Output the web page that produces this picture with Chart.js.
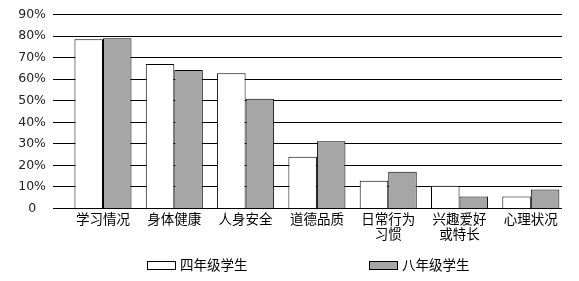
<!DOCTYPE html>
<html>
<head>
<meta charset="utf-8">
<script src="https://cdn.jsdelivr.net/npm/chart.js@4.4.1/dist/chart.umd.min.js"></script>
<style>
    html, body { margin: 0; padding: 0; background: #fff; }
    #wrap { width: 579px; height: 281px; }
</style>
</head>
<body>
<div id="wrap"><canvas id="surveyChart" width="579" height="281"></canvas></div>
<script>
// categories (multi-line where the picture wraps)
const categories = [['学习情况'], ['身体健康'], ['人身安全'], ['道德品质'], ['日常行为', '习惯'], ['兴趣爱好', '或特长'], ['心理状况']];
const seriesNames = ['四年级学生', '八年级学生'];
const grade4Values = [78.5, 67.0, 62.8, 24.0, 12.9, 10.6, 5.6];
const grade8Values = [79.0, 64.2, 50.9, 31.2, 17.0, 5.6, 8.8];
const yTicks = [0, 10, 20, 30, 40, 50, 60, 70, 80, 90];
const yTickLabels = ['0', '10%', '20%', '30%', '40%', '50%', '60%', '70%', '80%', '90%'];

const cjkFont = '"Noto Sans CJK SC", "Noto Sans", sans-serif';

// simple legend row drawn under the axis
const legendRow = {
    id: 'legendRow',
    afterDraw(chart, args, opts) {
        const ctx = chart.ctx;
        ctx.save();
        ctx.font = opts.font;
        ctx.textBaseline = 'middle';
        ctx.textAlign = 'left';
        chart.data.datasets.forEach((ds, i) => {
            const x = opts.xs[i];
            const top = Math.round(opts.y - opts.boxH / 2);
            ctx.fillStyle = ds.backgroundColor;
            ctx.fillRect(x, top, opts.boxW, opts.boxH);
            ctx.strokeStyle = '#000';
            ctx.lineWidth = 1;
            ctx.strokeRect(x + 0.5, top + 0.5, opts.boxW, opts.boxH);
            ctx.fillStyle = '#000';
            ctx.fillText(ds.label, x + opts.boxW + opts.gap, opts.y);
        });
        ctx.restore();
    }
};

const toPoints = (vals) => vals.map((v, i) => ({ x: i, y: v }));

const ctx = document.getElementById('surveyChart').getContext('2d');
new Chart(ctx, {
    type: 'bar',
    data: {
        datasets: [{
            label: seriesNames[0],
            data: toPoints(grade4Values),
            backgroundColor: '#ffffff',
            borderColor: '#000000',
            borderWidth: 1
        }, {
            label: seriesNames[1],
            data: toPoints(grade8Values),
            backgroundColor: '#a6a6a6',
            borderColor: '#000000',
            borderWidth: 1
        }]
    },
    options: {
        responsive: false,
        animation: false,
        categoryPercentage: 0.8,
        barPercentage: 1,
        layout: { padding: { top: 1, right: 17, bottom: 0, left: 0 } },
        plugins: {
            legend: { display: false },
            tooltip: { enabled: false },
            legendRow: { xs: [147, 369], y: 265, boxW: 28, boxH: 8, gap: 5, font: '13.5px ' + cjkFont }
        },
        scales: {
            x: {
                type: 'linear',
                min: -0.701,
                max: 6.437,
                bounds: 'data',
                offset: false,
                grid: { display: false, offset: false, drawTicks: false },
                border: { display: false },
                // one tick per category
                afterBuildTicks: (scale) => { scale.ticks = categories.map((c, i) => ({ value: i })); },
                ticks: {
                    autoSkip: false,
                    maxRotation: 0,
                    padding: 3,
                    color: '#000',
                    font: { family: cjkFont, size: 13.5, lineHeight: 1.1 },
                    callback: (v) => categories[v]
                },
                afterFit: (scale) => { scale.height = 72.5; }
            },
            y: {
                min: 0,
                max: 90,
                border: { display: false },
                grid: { color: '#000', lineWidth: 1, drawTicks: false },
                ticks: {
                    stepSize: 10,
                    padding: 7,
                    crossAlign: 'center',
                    color: '#222',
                    font: { family: '"DejaVu Sans", sans-serif', size: 12.5 },
                    callback: (v) => yTickLabels[yTicks.indexOf(v)]
                },
                afterFit: (scale) => { scale.width = 53; }
            }
        }
    },
    plugins: [legendRow]
});
</script>
</body>
</html>
